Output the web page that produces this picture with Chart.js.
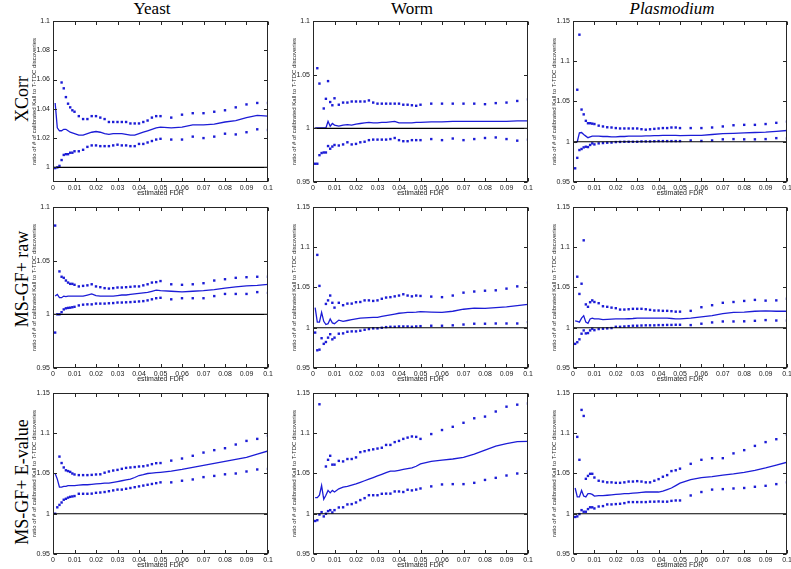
<!DOCTYPE html>
<html><head><meta charset="utf-8">
<script src="https://cdn.jsdelivr.net/npm/chart.js@4.4.0/dist/chart.umd.min.js"></script>
<style>
html,body{margin:0;padding:0;background:#fff;width:791px;height:569px;overflow:hidden;position:relative}
canvas{position:absolute}
.lab{position:absolute;font-family:"Liberation Serif","DejaVu Serif",serif;font-size:17px;color:#000;white-space:nowrap;transform:translate(-50%,-50%)}
.rot{transform:translate(-50%,-50%) rotate(-90deg);font-size:18px}
.frame{position:absolute;box-sizing:border-box;border:1px solid #262626;pointer-events:none;z-index:5}
.tk{position:absolute;background:#262626;pointer-events:none;z-index:5}
#stamp{position:absolute;left:0;top:0;width:1px;height:1px;overflow:hidden;color:transparent;font-size:1px}
</style></head>
<body>
<div id="stamp"></div>
<div class="lab" style="left:152px;top:9px">Yeast</div>
<div class="lab" style="left:412px;top:9px">Worm</div>
<div class="lab" style="left:672px;top:9px;font-style:italic">Plasmodium</div>
<div class="lab rot" style="left:22px;top:99px">XCorr</div>
<div class="lab rot" style="left:22px;top:279px">MS-GF+ raw</div>
<div class="lab rot" style="left:22px;top:482px">MS-GF+ E-value</div>
<script>
// estimated FDR (x)
const fdr = [0.001,0.002,0.003,0.004,0.005,0.006,0.007,0.008,0.009,0.010,
  0.012,0.014,0.016,0.018,0.020,0.022,0.024,0.026,0.028,0.030,
  0.032,0.034,0.036,0.038,0.040,0.042,0.044,0.046,0.048,0.050,
  0.055,0.060,0.065,0.070,0.075,0.080,0.085,0.090,0.095,0.100];
const xTicks = [0,0.01,0.02,0.03,0.04,0.05,0.06,0.07,0.08,0.09,0.1];
const yTicksA = [1,1.02,1.04,1.06,1.08,1.1];
const yTicksB = [0.95,1,1.05,1.1];
const yTicksC = [0.95,1,1.05,1.1,1.15];

// Yeast XCorr
const yeastXcorrUpper = [null,null,null,1.058,1.054,1.048,1.0435,1.041,1.039,1.038, 1.035,1.033,1.033,1.035,1.035,1.034,1.033,1.031,1.031,1.031, 1.031,1.031,1.030,1.030,1.030,1.031,1.032,1.034,1.035,1.035, 1.034,1.036,1.037,1.037,1.038,1.039,1.041,1.043,1.044,1.044];
const yeastXcorrLower = [0.9995,1.0,1.001,1.005,1.0085,1.009,1.009,1.010,1.010,1.011, 1.011,1.012,1.014,1.015,1.015,1.0145,1.0145,1.0145,1.015,1.0155, 1.015,1.015,1.0145,1.0145,1.016,1.016,1.017,1.018,1.019,1.0195, 1.019,1.019,1.021,1.020,1.021,1.023,1.0225,1.024,1.026,1.0255];
const yeastXcorrMid = [1.044,1.027,1.025,1.025,1.026,1.026,1.025,1.024,1.0235,1.023, 1.022,1.022,1.023,1.024,1.0245,1.024,1.023,1.0225,1.023,1.023, 1.023,1.0225,1.022,1.022,1.023,1.024,1.025,1.026,1.027,1.0275, 1.027,1.0275,1.029,1.029,1.0295,1.031,1.032,1.034,1.0355,1.035];
// Worm XCorr
const wormXcorrUpper = [null,1.056,1.0417,null,1.0185,1.0275,1.044,1.0245,1.0215,1.028, 1.022,1.024,1.024,1.025,1.025,1.025,1.025,1.026,1.024,1.023, 1.023,1.023,1.023,1.023,1.023,1.022,1.022,1.0215,1.021,1.022, 1.023,1.023,1.023,1.023,1.023,1.0225,1.0235,1.024,1.0255,1.027];
const wormXcorrLower = [0.967,0.967,0.975,0.977,0.9775,0.9775,0.9835,0.981,0.983,0.9845, 0.984,0.985,0.987,0.985,0.9855,0.987,0.9875,0.989,0.9895,0.9895, 0.9895,0.9895,0.990,0.991,0.989,0.988,0.988,0.989,0.989,0.989, 0.990,0.989,0.9905,0.989,0.990,0.991,0.9915,0.990,0.9885,0.9895];
const wormXcorrMid = [1.0005,1.0005,1.0003,1.0003,1.0003,1.0003,1.0065,1.002,1.0045,1.003, 1.002,1.003,1.0035,1.003,1.004,1.0045,1.005,1.0055,1.005,1.005, 1.0055,1.0055,1.006,1.0065,1.005,1.005,1.005,1.005,1.0055,1.0055, 1.006,1.006,1.0065,1.0065,1.0065,1.0065,1.0065,1.0065,1.007,1.007];
// Plasmodium XCorr
const plasXcorrUpper = [null,1.0646,1.133,1.040,1.034,1.026,1.023,1.023,1.0225,1.022, 1.020,1.019,1.018,1.0177,1.017,1.0165,1.0165,1.0165,1.0165,1.0165, 1.0156,1.015,1.0155,1.016,1.0165,1.017,1.017,1.0177,1.0177,1.017, 1.017,1.017,1.0177,1.019,1.0205,1.021,1.021,1.022,1.0235,1.025];
const plasXcorrLower = [0.967,0.980,0.9897,0.991,0.993,0.9938,0.9934,0.996,0.998,0.9967, 0.998,0.9984,0.9988,0.999,0.9996,0.9998,1.0,1.0,1.0,1.0, 1.0004,1.0004,1.0004,1.0006,1.0008,1.0008,1.0008,1.0008,1.0008,1.0008, 1.0016,1.001,1.0016,1.003,1.0033,1.003,1.003,1.0033,1.0045,1.004];
const plasXcorrMid = [0.999,1.0,1.011,1.0115,1.009,1.007,1.005,1.006,1.007,1.007, 1.007,1.0065,1.0065,1.006,1.006,1.0065,1.0065,1.007,1.007,1.007, 1.007,1.0072,1.0072,1.0075,1.0075,1.0078,1.008,1.008,1.008,1.0075, 1.0078,1.008,1.009,1.010,1.0105,1.011,1.0115,1.012,1.013,1.014];
// Yeast MS-GF+ raw
const yeastRawUpper = [1.0827,null,1.040,1.035,1.034,1.0315,1.0296,1.0284,1.0284,1.0275, 1.026,1.0265,1.027,1.028,1.026,1.0253,1.0244,1.024,1.0244,1.025, 1.025,1.0253,1.0256,1.026,1.026,1.027,1.028,1.0296,1.030,1.031, 1.028,1.0275,1.028,1.029,1.0315,1.0327,1.034,1.0346,1.035,1.035];
const yeastRawLower = [0.983,1.0,1.0,1.002,1.0046,1.0056,1.006,1.0062,1.0066,1.007, 1.0083,1.009,1.0093,1.0093,1.010,1.010,1.010,1.0103,1.0105,1.011, 1.011,1.0112,1.0114,1.0117,1.012,1.0123,1.013,1.014,1.015,1.0154, 1.014,1.015,1.015,1.015,1.017,1.019,1.019,1.019,1.0207,1.020];
const yeastRawMid = [1.017,1.0185,1.0155,1.0155,1.017,1.0165,1.017,1.017,1.017,1.017, 1.017,1.017,1.018,1.019,1.0175,1.017,1.017,1.017,1.017,1.0175, 1.018,1.018,1.0185,1.019,1.0195,1.020,1.0205,1.0215,1.0225,1.022, 1.0215,1.021,1.0215,1.022,1.023,1.0245,1.0255,1.0265,1.027,1.028];
// Worm MS-GF+ raw
const wormRawUpper = [null,1.0905,1.052,null,null,1.0296,1.034,1.040,1.031,1.025, 1.031,1.028,1.030,1.030,1.0317,1.032,1.034,1.034,1.0333,1.034, 1.036,1.0375,1.038,1.039,1.040,1.0416,1.040,1.039,1.040,1.0395, 1.0387,1.038,1.040,1.0436,1.045,1.046,1.0465,1.0486,1.0514,1.056];
const wormRawLower = [0.994,0.972,0.9728,0.987,0.980,0.9823,0.9877,0.992,0.9856,0.9877, 0.9926,0.993,0.995,0.9955,0.9955,0.9963,0.9975,0.9984,0.9992,0.9992, 1.0,1.0008,1.0012,1.0012,1.0016,1.0016,1.0016,1.0012,1.0016,1.002, 1.0025,1.0025,1.003,1.004,1.005,1.005,1.0053,1.0053,1.0053,1.007];
const wormRawMid = [1.025,1.007,1.007,1.019,1.008,1.004,1.005,1.011,1.006,1.005, 1.0095,1.008,1.009,1.010,1.011,1.012,1.0122,1.0125,1.0128,1.013, 1.014,1.015,1.016,1.017,1.018,1.0185,1.019,1.0192,1.0195,1.02, 1.0195,1.019,1.0205,1.023,1.0245,1.024,1.025,1.026,1.0275,1.029];
// Plasmodium MS-GF+ raw
const plasRawUpper = [null,1.0634,1.042,1.0547,1.1086,1.029,1.026,1.0317,1.034,1.032, 1.0305,1.0267,1.026,1.025,1.0243,1.0226,1.0226,1.023,1.0235,1.0235, 1.0235,1.023,1.0222,1.0214,1.0214,1.021,1.021,1.0206,1.020,1.020, 1.021,1.0255,1.028,1.031,1.032,1.0333,1.0346,1.0337,1.034,1.036];
const plasRawLower = [0.980,0.982,0.9856,0.9926,0.9967,0.993,0.9934,0.9967,0.9988,0.997, 0.9984,0.9988,0.9992,0.9996,1.0012,1.0012,1.0016,1.002,1.0025,1.0025, 1.0028,1.003,1.003,1.003,1.0033,1.0033,1.0035,1.0035,1.0037,1.0037, 1.0033,1.005,1.0066,1.0078,1.0078,1.008,1.0086,1.0095,1.009,1.009];
const plasRawMid = [1.0085,1.008,1.007,1.012,1.015,1.007,1.0055,1.011,1.012,1.011, 1.011,1.010,1.0105,1.0108,1.011,1.011,1.011,1.0112,1.0115,1.012, 1.012,1.012,1.012,1.012,1.012,1.012,1.012,1.0115,1.011,1.011, 1.012,1.0135,1.015,1.0175,1.019,1.0195,1.0205,1.021,1.0205,1.0205];
// Yeast MS-GF+ E-value
const yeastEvUpper = [null,null,1.071,1.063,1.0575,1.054,1.053,1.052,1.050,1.0488, 1.048,1.048,1.048,1.0483,1.0488,1.049,1.051,1.0525,1.0537,1.0545, 1.0558,1.057,1.0575,1.058,1.0587,1.059,1.060,1.0616,1.0628,1.063, 1.066,1.0686,1.072,1.076,1.079,1.0814,1.086,1.0905,1.093,1.097];
const yeastEvLower = [1.0,1.008,1.011,1.014,1.0174,1.0186,1.020,1.021,1.0215,1.022, 1.0248,1.0248,1.0248,1.025,1.026,1.0264,1.027,1.028,1.029,1.030, 1.030,1.031,1.032,1.033,1.034,1.035,1.036,1.037,1.038,1.039, 1.039,1.041,1.0426,1.0455,1.047,1.049,1.050,1.0525,1.055,1.0558];
const yeastEvMid = [1.05,1.043,1.033,1.033,1.034,1.034,1.035,1.035,1.035,1.035, 1.0355,1.036,1.036,1.0365,1.037,1.0375,1.038,1.038,1.039,1.040, 1.041,1.042,1.043,1.045,1.0475,1.0485,1.050,1.0505,1.051,1.0515, 1.053,1.055,1.0575,1.060,1.0625,1.065,1.0675,1.070,1.074,1.078];
// Worm MS-GF+ E-value
const wormEvUpper = [null,null,1.136,null,null,1.0587,1.067,1.072,1.061,1.061, 1.0657,1.065,1.068,1.068,1.070,1.0765,1.0777,1.079,1.080,1.081, 1.082,1.0855,1.0855,1.089,1.0905,1.093,1.0946,1.096,1.0955,1.093, 1.099,1.104,1.108,1.113,1.1186,1.1207,1.127,1.133,1.1355,1.137];
const wormEvLower = [0.991,0.992,0.999,1.002,0.9967,1.0,1.0033,1.0045,1.0016,1.0045, 1.0078,1.008,1.0116,1.012,1.014,1.017,1.0194,1.023,1.023,1.023, 1.0248,1.025,1.025,1.0277,1.0277,1.027,1.0298,1.029,1.030,1.0314, 1.034,1.0364,1.0368,1.0368,1.0384,1.042,1.0446,1.0475,1.050,1.0525];
const wormEvMid = [1.020,1.020,1.023,1.035,1.018,1.023,1.029,1.026,1.029,1.027, 1.031,1.033,1.034,1.0355,1.037,1.039,1.041,1.043,1.045,1.047, 1.049,1.051,1.053,1.053,1.054,1.055,1.056,1.057,1.059,1.062, 1.065,1.0665,1.068,1.070,1.074,1.079,1.084,1.087,1.0895,1.090];
// Plasmodium MS-GF+ E-value
const plasEvUpper = [null,1.0955,1.067,1.129,1.1215,1.0434,1.047,1.0496,1.0496,1.045, 1.041,1.040,1.039,1.039,1.0384,1.0384,1.039,1.040,1.040,1.0405, 1.040,1.039,1.039,1.041,1.043,1.046,1.048,1.053,1.054,1.056, 1.062,1.067,1.069,1.069,1.075,1.079,1.0843,1.089,1.0926,1.0983];
const plasEvLower = [0.996,0.9967,0.9996,1.0045,1.0025,1.0025,1.0058,1.008,1.008,1.0066, 1.009,1.0095,1.0116,1.0116,1.012,1.0124,1.0132,1.0145,1.0145,1.0145, 1.0145,1.0145,1.015,1.015,1.0153,1.015,1.015,1.016,1.0165,1.0165, 1.0227,1.027,1.030,1.0306,1.0314,1.032,1.0335,1.0347,1.0368,1.039];
const plasEvMid = [1.032,1.021,1.021,1.029,1.022,1.021,1.025,1.025,1.024,1.022, 1.0225,1.0225,1.023,1.0235,1.024,1.0245,1.025,1.025,1.0255,1.026, 1.0265,1.027,1.027,1.027,1.027,1.028,1.030,1.032,1.035,1.038, 1.0425,1.045,1.046,1.048,1.0495,1.0515,1.054,1.057,1.0605,1.064];

const BLUE = '#1c1cd6';
const AX = '#262626';
const SANS = '"Liberation Sans", Arial, Helvetica, sans-serif';

const panels = [
  {row:0,col:0,up:yeastXcorrUpper,mid:yeastXcorrMid,lo:yeastXcorrLower,min:0.99,max:1.1,yt:yTicksA},
  {row:0,col:1,up:wormXcorrUpper,mid:wormXcorrMid,lo:wormXcorrLower,min:0.95,max:1.1,yt:yTicksB},
  {row:0,col:2,up:plasXcorrUpper,mid:plasXcorrMid,lo:plasXcorrLower,min:0.95,max:1.15,yt:yTicksC},
  {row:1,col:0,up:yeastRawUpper,mid:yeastRawMid,lo:yeastRawLower,min:0.95,max:1.1,yt:yTicksB},
  {row:1,col:1,up:wormRawUpper,mid:wormRawMid,lo:wormRawLower,min:0.95,max:1.15,yt:yTicksC},
  {row:1,col:2,up:plasRawUpper,mid:plasRawMid,lo:plasRawLower,min:0.95,max:1.15,yt:yTicksC},
  {row:2,col:0,up:yeastEvUpper,mid:yeastEvMid,lo:yeastEvLower,min:0.95,max:1.15,yt:yTicksC},
  {row:2,col:1,up:wormEvUpper,mid:wormEvMid,lo:wormEvLower,min:0.95,max:1.15,yt:yTicksC},
  {row:2,col:2,up:plasEvUpper,mid:plasEvMid,lo:plasEvLower,min:0.95,max:1.15,yt:yTicksC}
];

const plotLefts = [53,313,573];
const plotTops = [21,207,393];
const PW = 215, PH = 161, YW = 50, XH = 15, TOP = 5;

const pts = arr => fdr.map((v,i)=>({x:v, y:arr[i]})).filter(d => d.y !== null);
const stamp = document.getElementById('stamp');
let drawCount = 0;

// MATLAB-style box with inward ticks, positioned from the chart's own scales
const boxPlugin = {
  id:'matlabBox',
  afterDraw(chart){
    const {ctx, chartArea:a, scales} = chart;
    const x = scales.x, y = scales.y;
    ctx.save();
    ctx.strokeStyle = AX; ctx.lineWidth = 1;
    const L = Math.round(a.left)+0.5, R = Math.round(a.right)-0.5, T = Math.round(a.top)+0.5, B = Math.round(a.bottom)-0.5;
    ctx.strokeRect(L, T, R-L, B-T);
    ctx.beginPath();
    x.ticks.forEach(t=>{const p=Math.round(x.getPixelForValue(t.value))+0.5; ctx.moveTo(p,B); ctx.lineTo(p,B-3); ctx.moveTo(p,T); ctx.lineTo(p,T+3);});
    y.ticks.forEach(t=>{const p=Math.round(y.getPixelForValue(t.value))+0.5; ctx.moveTo(L,p); ctx.lineTo(L+3,p); ctx.moveTo(R,p); ctx.lineTo(R-3,p);});
    ctx.stroke();
    ctx.restore();
    drawCount++;
    stamp.textContent = 'd' + drawCount;
  }
};

// same box also as page elements placed from chartArea / scale pixels
function overlayBox(chart, cvLeft, cvTop){
  const a = chart.chartArea, x = chart.scales.x, y = chart.scales.y;
  const l = Math.round(a.left), r = Math.round(a.right), t = Math.round(a.top), b = Math.round(a.bottom);
  const add = (cls, left, top, w, h) => {
    const d = document.createElement('div'); d.className = cls;
    d.style.left = (cvLeft+left)+'px'; d.style.top = (cvTop+top)+'px';
    d.style.width = w+'px'; d.style.height = h+'px';
    document.body.appendChild(d);
  };
  add('frame', l, t, r-l, b-t);
  x.ticks.forEach(tk=>{ const p = Math.round(x.getPixelForValue(tk.value)); add('tk', p, b-4, 1, 3); add('tk', p, t+1, 1, 3); });
  y.ticks.forEach(tk=>{ const p = Math.round(y.getPixelForValue(tk.value)); add('tk', l+1, p, 3, 1); add('tk', r-4, p, 3, 1); });
}

panels.forEach(p=>{
  const rightPad = p.col===2 ? 3 : 8;
  const cv = document.createElement('canvas');
  const w = YW + PW + rightPad, h = TOP + PH + XH;
  const cvLeft = plotLefts[p.col]-YW, cvTop = plotTops[p.row]-TOP;
  cv.width = w; cv.height = h;
  cv.style.left = cvLeft+'px';
  cv.style.top = cvTop+'px';
  document.body.appendChild(cv);
  const chart = new Chart(cv, {
    type:'scatter',
    data:{datasets:[
      {data:[{x:0,y:1},{x:0.1,y:1}], showLine:true, borderColor:'#000', borderWidth:1.2, pointRadius:0},
      {data:pts(p.lo), pointStyle:'rect', pointRadius:1.7, pointBorderWidth:0, backgroundColor:BLUE, borderColor:BLUE, showLine:false},
      {data:pts(p.up), pointStyle:'rect', pointRadius:1.7, pointBorderWidth:0, backgroundColor:BLUE, borderColor:BLUE, showLine:false},
      {data:pts(p.mid), showLine:true, borderColor:BLUE, borderWidth:1.3, pointRadius:0, tension:0}
    ]},
    options:{
      responsive:false, animation:false, devicePixelRatio:1,
      layout:{padding:{left:0,top:TOP,right:rightPad,bottom:0}},
      plugins:{legend:{display:false}, tooltip:{enabled:false}},
      events:[],
      scales:{
        x:{type:'linear', min:0, max:0.1,
          grid:{display:false, drawTicks:false}, border:{display:false},
          afterBuildTicks: s=>{ s.ticks = xTicks.map(v=>({value:v})); },
          afterFit: s=>{ s.height = XH; s.paddingLeft = 0; s.paddingRight = 0; },
          ticks:{padding:2, autoSkip:false, maxRotation:0, minRotation:0, color:'#222', font:{size:7, family:SANS}, callback:v=>String(v)},
          title:{display:true, text:'estimated FDR', color:'#222', font:{size:7, family:SANS}, padding:{top:0,bottom:0}}
        },
        y:{type:'linear', min:p.min, max:p.max,
          grid:{display:false, drawTicks:false}, border:{display:false},
          afterBuildTicks: s=>{ s.ticks = p.yt.map(v=>({value:v})); },
          afterFit: s=>{ s.width = YW; s.paddingTop = 0; s.paddingBottom = 0; },
          ticks:{padding:3, color:'#222', font:{size:7, family:SANS}, callback:v=>String(v)},
          title:{display:true, text:'ratio of # of calibrated Kall to T-TDC discoveries', color:'#222', font:{size:6, family:SANS}, padding:{top:28,bottom:0}}
        }
      }
    },
    plugins:[boxPlugin]
  });
  overlayBox(chart, cvLeft, cvTop);
});
</script>
</body></html>
